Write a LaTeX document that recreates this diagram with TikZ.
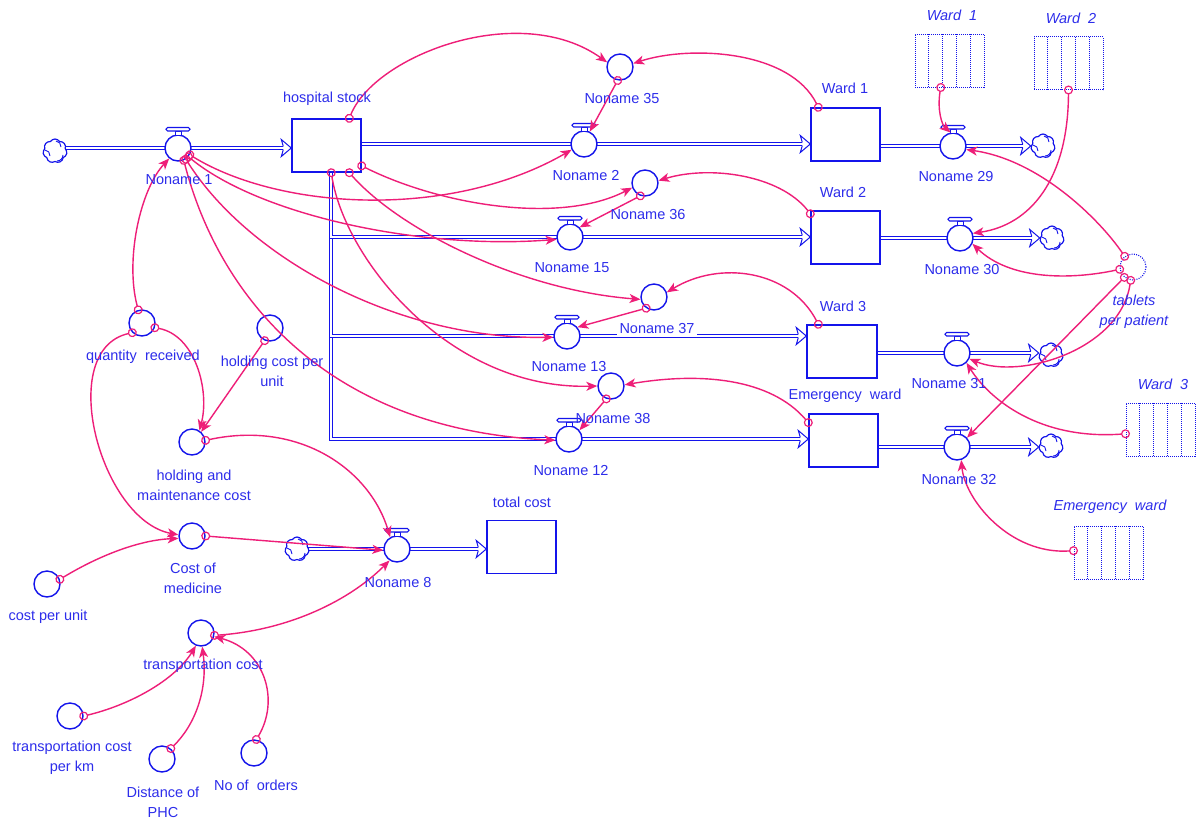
\documentclass[tikz,border=0pt]{standalone}
\usepackage{fontspec}
\setmainfont{Liberation Sans}
\usetikzlibrary{arrows.meta,shapes.symbols,backgrounds}

\definecolor{sblue}{RGB}{20,20,235}
\definecolor{tblue}{RGB}{45,45,235}
\definecolor{spink}{RGB}{238,30,120}
\newcommand\lblfont{\fontsize{14.5}{20}\selectfont}

% open chevron at the end of a flow pipe
\newcommand\flowtip[1]{\draw[sblue, line width=1pt, line join=miter]
  ([shift={(-8,-1.6)}]#1) -- ([shift={(-10,-8.5)}]#1) -- (#1) -- ([shift={(-10,8.5)}]#1) -- ([shift={(-8,1.6)}]#1);}
% handle on top of a valve
\newcommand\valvetop[1]{%
  \draw[sblue, line width=1pt, fill=white] ([shift={(-3,-12.6)}]#1.center) rectangle ([shift={(3,-17)}]#1.center);
  \draw[sblue, line width=1.1pt, fill=white, rounded corners=1.6pt] ([shift={(-12,-17)}]#1.center) rectangle ([shift={(12,-20.5)}]#1.center);}
% small curls inside a cloud
\newcommand\cloudcurls[1]{%
  \draw[sblue, line width=0.9pt] ([shift={(1,-10)}]#1.center) to[bend left=45] ([shift={(6,-4)}]#1.center);
  \draw[sblue, line width=0.9pt] ([shift={(-10,-1)}]#1.center) to[bend left=45] ([shift={(-5,5)}]#1.center);
  \draw[sblue, line width=0.9pt] ([shift={(2,10)}]#1.center) to[bend right=45] ([shift={(8,4)}]#1.center);}
% inner columns of a graphical function
\newcommand\graphcols[1]{\foreach \k in {1,...,4}
  \draw[sblue, line width=0.9pt, dash pattern=on 1pt off 1pt]
    ([shift={(-34.5+13.8*\k,-26.5)}]#1.center) -- ([shift={(-34.5+13.8*\k,26.5)}]#1.center);}

\tikzset{
  stockbox/.style={draw=sblue, line width=1.4pt, fill=white, minimum width=69pt, minimum height=53pt, inner sep=0},
  auxc/.style={circle, draw=sblue, line width=1.4pt, fill=white, minimum size=26pt, inner sep=0},
  valvec/.style={auxc},
  ghostc/.style={circle, draw=sblue, line width=1.1pt, dash pattern=on 1pt off 1.3pt, minimum size=26pt, inner sep=0},
  cloudic/.style={cloud, cloud puffs=7, cloud puff arc=115, aspect=1, draw=sblue, line width=1.2pt, fill=white,
    minimum width=24pt, minimum height=24pt, inner sep=0},
  graphic/.style={draw=sblue, line width=1pt, dash pattern=on 1pt off 1pt, minimum width=69pt, minimum height=53pt, inner sep=0},
  pipe/.style={draw=sblue, line width=1pt, double=white, double distance=2.1pt},
  conn/.style={draw=spink, line width=1.4pt,
    {Circle[open,length=9pt,width=9pt,line width=1.2pt]}-{Stealth[length=11pt,width=9pt,inset=3pt]},
    shorten <=-4.5pt},
  lbl/.style={text=tblue, font=\lblfont, inner sep=0, align=center},
  ilbl/.style={lbl, font=\lblfont\itshape},
}

\begin{document}
\begin{tikzpicture}[x=1pt,y=-1pt]
\useasboundingbox (0,0) rectangle (1203,823);

% ---- stocks
\node[stockbox] (hs) at (326.5,145.5) {};
\node[stockbox] (w1) at (845.5,134.5) {};
\node[stockbox] (w2) at (845.5,237.5) {};
\node[stockbox, minimum width=70pt] (w3) at (842,351.5) {};
\node[stockbox] (ew) at (843.5,440.5) {};
\node[stockbox] (tcst) at (521.5,547) {};

% ---- valves
\node[valvec] (v1) at (178,148) {};
\node[valvec] (v2) at (584,144) {};
\node[valvec] (v15) at (570,237) {};
\node[valvec] (v13) at (567,336) {};
\node[valvec] (v12) at (569,439) {};
\node[valvec] (v29) at (953,146) {};
\node[valvec] (v30) at (960,238) {};
\node[valvec] (v31) at (957,353) {};
\node[valvec] (v32) at (957,447) {};
\node[valvec] (v8) at (397,549) {};
\foreach \v in {v1,v2,v15,v13,v12,v29,v30,v31,v32,v8} {\valvetop{\v}}

% ---- clouds
\node[cloudic] (c0) at (55,151) {};
\node[cloudic] (c29) at (1043,146) {};
\node[cloudic] (c30) at (1052,238) {};
\node[cloudic] (c31) at (1051,355) {};
\node[cloudic] (c32) at (1051,446) {};
\node[cloudic] (c8) at (297,549) {};
\foreach \c in {c0,c29,c30,c31,c32,c8} {\cloudcurls{\c}}

% ---- auxiliaries
\node[auxc] (n35) at (620,67) {};
\node[auxc] (n36) at (645,183) {};
\node[auxc] (n37) at (654,297) {};
\node[auxc] (n38) at (611,386) {};
\node[auxc] (qr) at (142,323) {};
\node[auxc] (hcpu) at (270,328) {};
\node[auxc] (hmc) at (192,442) {};
\node[auxc] (com) at (192,536) {};
\node[auxc] (cpu) at (47,584) {};
\node[auxc] (tc) at (201,633) {};
\node[auxc] (tcpk) at (70,716) {};
\node[auxc] (dphc) at (162,759) {};
\node[auxc] (noo) at (254,753) {};
\node[ghostc] (tpp) at (1133,267) {};

% ---- graphical functions
\node[graphic] (w1g) at (949.5,60.5) {};
\node[graphic] (w2g) at (1068.5,63) {};
\node[graphic] (w3g) at (1160.5,429.5) {};
\node[graphic] (ewg) at (1108.5,552.5) {};
\foreach \g in {w1g,w2g,w3g,ewg} {\graphcols{\g}}

% ---- pipe end points
\coordinate (hs-b) at (331,172);
\coordinate (t-hs) at (hs.west |- v1);
\coordinate (t-w1) at (w1.west |- v2);
\coordinate (t-w2) at (w2.west |- v15);
\coordinate (t-w3) at (w3.west |- v13);
\coordinate (t-ew) at (ew.west |- v12);
\coordinate (t-tc) at (tcst.west |- v8);
\coordinate (t-c29) at (c29.west |- v29);
\coordinate (t-c30) at (c30.west |- v30);
\coordinate (t-c31) at (c31.west |- v31);
\coordinate (t-c32) at (c32.west |- v32);

\begin{scope}[on background layer]
  \fill[white] (0,0) rectangle (1203,823);
  \draw[pipe, shorten >=8pt] (c0.center |- v1) -- (v1.center) -- (t-hs);
  \draw[pipe, shorten >=8pt] (hs.east |- v2) -- (v2.center) -- (t-w1);
  \draw[pipe, shorten >=8pt] (hs-b) |- (v12.center) -- (t-ew);
  \draw[pipe, shorten >=8pt] (hs-b) |- (v13.center) -- (t-w3);
  \draw[pipe, shorten >=8pt] (hs-b) |- (v15.center) -- (t-w2);
  \draw[pipe, shorten >=8pt] (w1.east |- v29) -- (v29.center) -- (t-c29);
  \draw[pipe, shorten >=8pt] (w2.east |- v30) -- (v30.center) -- (t-c30);
  \draw[pipe, shorten >=8pt] (w3.east |- v31) -- (v31.center) -- (t-c31);
  \draw[pipe, shorten >=8pt] (ew.east |- v32) -- (v32.center) -- (t-c32);
  \draw[pipe, shorten >=8pt] (c8.center) -- (v8.center) -- (t-tc);
\end{scope}
\foreach \t in {t-hs,t-w1,t-w2,t-w3,t-ew,t-tc,t-c29,t-c30,t-c31,t-c32} {\flowtip{\t}}

% ---- connectors
\draw[conn] (hs.50) .. controls (375,55) and (520,0) .. (n35.160);
\draw[conn] (w1.135) .. controls (790,50) and (690,45) .. (n35.15);
\draw[conn] (n35.260) -- (v2.65);
\draw[conn] (v1.-30) .. controls (280,210) and (450,220) .. (v2.205);
\draw[conn] (hs.-30) .. controls (440,205) and (560,225) .. (n36.200);
\draw[conn] (n36.250) -- (v15.45);
\draw[conn] (w2.146) .. controls (780,175) and (710,165) .. (n36.10);
\draw[conn] (v1.-40) .. controls (260,215) and (420,250) .. (v15.190);
\draw[conn] (hs.-50) .. controls (400,230) and (520,290) .. (n37.190);
\draw[conn] (w3.131) .. controls (790,270) and (720,260) .. (n37.20);
\draw[conn] (n37.235) -- (v13.40);
\draw[conn] (v1.-55) .. controls (250,260) and (400,340) .. (v13.185);
\draw[conn] (v1.-65) .. controls (220,300) and (330,430) .. (v12.185);
\draw[conn] (hs.-80) .. controls (345,260) and (450,390) .. (n38.180);
\draw[conn] (ew.153) .. controls (770,378) and (700,372) .. (n38.5);
\draw[conn] (n38.250) -- (v12.40);
\draw[conn] (qr.106) .. controls (125,260) and (140,190) .. (v1.230);
\draw[conn] (qr.225) .. controls (55,350) and (100,520) .. (com.175);
\draw[conn] (qr.-20) .. controls (195,335) and (210,390) .. (hmc.57);
\draw[conn] (hcpu.247) -- (hmc.48);
\draw[conn] (hmc.7) .. controls (300,420) and (370,470) .. (v8.120);
\draw[conn] (com.0) -- (v8.185);
\draw[conn] (cpu.20) .. controls (100,555) and (140,540) .. (com.190);
\draw[conn] (tc.-10) .. controls (290,630) and (350,600) .. (v8.237);
\draw[conn] (tcpk.0) .. controls (130,705) and (175,680) .. (tc.248);
\draw[conn] (dphc.50) .. controls (195,725) and (208,690) .. (tc.275);
\draw[conn] (noo.80) .. controls (280,700) and (265,650) .. (tc.-15);
\draw[conn] (w1g.252) .. controls (937,110) and (942,125) .. (v29.100);
\draw[conn] (w2g.270) .. controls (1068,180) and (1030,225) .. (v30.20);
\draw[conn] (tpp.128) .. controls (1100,220) and (1040,160) .. (v29.-15);
\draw[conn] (tpp.190) .. controls (1070,280) and (1010,280) .. (v30.-25);
\draw[conn] (tpp.230) -- (v32.43);
\draw[conn] (tpp.260) .. controls (1120,350) and (1020,380) .. (v31.-25);
\draw[conn] (w3g.187) .. controls (1040,440) and (990,400) .. (v31.-46);
\draw[conn] (ewg.177) .. controls (1010,555) and (965,500) .. (v32.-72);

% ---- labels
\node[lbl] (l-hs) at (327,99) {hospital stock};
\node[lbl] (l-v1) at (179,180) {Noname 1};
\node[lbl] (l-n35) at (622,99) {Noname 35};
\node[lbl] (l-v2) at (586,176) {Noname 2};
\node[lbl] (l-n36) at (648,215) {Noname 36};
\node[lbl] (l-v15) at (572,268) {Noname 15};
\node[lbl, fill=white, inner xsep=3pt, inner ysep=1pt] (l-n37) at (657,329) {Noname 37};
\node[lbl] (l-v13) at (569,367) {Noname 13};
\node[lbl] (l-n38) at (613,418) {Noname 38};
\node[lbl] (l-v12) at (571,470) {Noname 12};
\node[lbl] (l-w1) at (845,88) {Ward 1};
\node[lbl] (l-w2) at (843,192) {Ward 2};
\node[lbl] (l-w3) at (843,306) {Ward 3};
\node[lbl] (l-ew) at (845,396) {Emergency~ ward};
\node[lbl] (l-v29) at (956,177) {Noname 29};
\node[lbl] (l-v30) at (962,270) {Noname 30};
\node[lbl] (l-v31) at (949,384) {Noname 31};
\node[lbl] (l-v32) at (959,479) {Noname 32};
\node[lbl] (l-tcst) at (522,502) {total cost};
\node[lbl] (l-v8) at (398,582) {Noname 8};
\node[ilbl] (l-tpp) at (1134,312) {tablets\\per patient};
\node[ilbl] (l-w1g) at (952,15) {Ward~ 1};
\node[ilbl] (l-w2g) at (1071,18) {Ward~ 2};
\node[ilbl] (l-w3g) at (1163,384) {Ward~ 3};
\node[ilbl] (l-ewg) at (1110,507) {Emergency~ ward};
\node[lbl] (l-qr) at (143,357) {quantity~ received};
\node[lbl] (l-hcpu) at (272,371) {holding cost per\\unit};
\node[lbl] (l-hmc) at (194,485) {holding and\\maintenance cost};
\node[lbl] (l-com) at (193,578) {Cost of\\medicine};
\node[lbl] (l-cpu) at (48,617) {cost per unit};
\node[lbl] (l-tc) at (203,666) {transportation cost};
\node[lbl] (l-tcpk) at (72,758) {transportation cost\\per km};
\node[lbl] (l-dphc) at (163,802) {Distance of\\PHC};
\node[lbl] (l-noo) at (256,785) {No of~ orders};
\end{tikzpicture}
\end{document}
